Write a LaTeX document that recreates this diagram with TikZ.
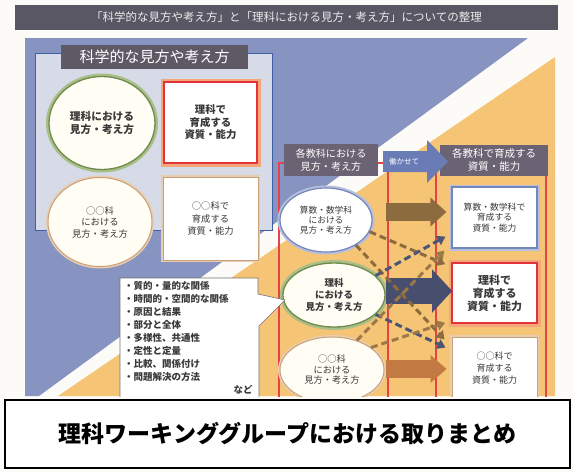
\documentclass[tikz,border=0pt]{standalone}
\usepackage{fontspec}
\setmainfont{Noto Sans CJK JP}
\usetikzlibrary{arrows.meta,calc,shapes.geometric}
\newcommand\jpfs[2]{\fontsize{#1}{#2}\selectfont}
\definecolor{pagebg}{HTML}{FCFBF7}
\definecolor{titlebar}{HTML}{5A5765}
\definecolor{tabgray}{HTML}{5F5966}
\definecolor{hdrgray}{HTML}{6B6373}
\definecolor{bgblue}{HTML}{8793C1}
\definecolor{bgorange}{HTML}{F5C474}
\definecolor{panelfill}{HTML}{D6DBE7}
\definecolor{panelline}{HTML}{3E5FA6}
\definecolor{cream}{HTML}{FFFDF4}
\definecolor{greenline}{HTML}{6F8C4C}
\definecolor{greenglow}{HTML}{A9BE88}
\definecolor{redline}{HTML}{E2323A}
\definecolor{redglow}{HTML}{F5A77A}
\definecolor{tanline}{HTML}{C9A07A}
\definecolor{tanglow}{HTML}{E8CDAE}
\definecolor{blueline}{HTML}{7586B8}
\definecolor{blueglow}{HTML}{B5C0DE}
\definecolor{arrowblue}{HTML}{6A7CB6}
\definecolor{brownA}{HTML}{8C6B3E}
\definecolor{brownB}{HTML}{9C7A48}
\definecolor{navyA}{HTML}{474E6E}
\definecolor{navyB}{HTML}{4D5577}
\definecolor{orangeA}{HTML}{C27A42}
\definecolor{colred}{HTML}{E5434A}
\definecolor{textgray}{HTML}{3A3838}
\tikzset{
  ellnode/.style={ellipse, inner sep=0pt, align=center, text=textgray},
  boxnode/.style={rectangle, inner sep=0pt, align=center, text=textgray},
  glowgreen/.style={preaction={draw=greenglow, line width=6pt}, draw=greenline, line width=1.3pt, fill=cream},
  glowred/.style={preaction={draw=redglow, line width=7pt}, draw=redline, line width=1.6pt, fill=white},
  glowtan/.style={preaction={draw=tanglow, line width=4pt}, draw=tanline, line width=1pt, fill=cream},
  glowblue/.style={preaction={draw=blueglow, line width=5pt}, draw=blueline, line width=1.2pt, fill=white},
  darkhdr/.style={fill=hdrgray, text=white, inner sep=0pt, align=center},
  dasharrow/.style={line width=3pt, dash pattern=on 7pt off 4pt, -{Triangle[width=10pt,length=8pt]}},
  colline/.style={colred, line width=1.2pt}
}
\begin{document}
\begin{tikzpicture}[x=1pt,y=-1pt]
\useasboundingbox (0,0) rectangle (573,472);
\fill[pagebg] (0,0) rectangle (573,472);
\node[fill=titlebar, minimum width=543pt, minimum height=25pt, inner sep=0pt, text=white!92!black, font=\jpfs{11.5}{13}] (title) at (286.5,17.5) {「科学的な見方や考え方」と「理科における見方・考え方」についての整理};

\begin{scope}
\clip (0,35) rectangle (573,396);
\fill[bgblue] (25,38) -- (528,38) -- (39,396) -- (25,396) -- cycle;
\fill[bgorange] (555,57) -- (555,396) -- (58,396) -- cycle;

% left panel
\node[draw=panelline, line width=1pt, fill=panelfill, minimum width=237pt, minimum height=177pt, anchor=north west, inner sep=0pt] (panel) at (35,53) {};
\node[fill=tabgray, text=white, minimum width=187pt, minimum height=24pt, inner sep=0pt, font=\jpfs{15}{18}] (tab) at (154.5,57) {科学的な見方や考え方};
\node[ellnode, glowgreen, minimum width=106pt, minimum height=93pt, font=\bfseries\jpfs{10.7}{12.5}] (riE1) at (102,123) {理科における\\見方・考え方};
\node[boxnode, glowred, minimum width=93pt, minimum height=81pt, font=\bfseries\jpfs{10.4}{12.5}] (riB1) at (210.5,122.5) {理科で\\育成する\\資質・能力};
\node[ellnode, glowtan, minimum width=104pt, minimum height=89pt, font=\jpfs{9.3}{11.5}] (oE1) at (100,222) {○○科\\における\\見方・考え方};
\node[boxnode, glowtan, fill=white, minimum width=95pt, minimum height=83pt, font=\jpfs{9.3}{12.5}] (oB1) at (210.5,218.5) {○○科で\\育成する\\資質・能力};

% column frames
\draw[colline] (279,400) -- (279,163) -- (388,163) -- (388,400);
\draw[colline] (436,400) -- (436,163) -- (546,163) -- (546,400);
\node[darkhdr, minimum width=94pt, minimum height=32pt, font=\jpfs{10.1}{12.5}] (hdr1) at (331,160) {各教科における\\見方・考え方};
\node[darkhdr, minimum width=108pt, minimum height=31pt, font=\jpfs{10.5}{12.5}] (hdr2) at (494,160) {各教科で育成する\\資質・能力};
\fill[arrowblue] (383,151) -- (427,151) -- (427,140) -- (448,161.5) -- (427,183) -- (427,172) -- (383,172) -- cycle;
\node[text=white, font=\jpfs{7.5}{9}] (hataraki) at (404,161.5) {働かせて};

% middle ellipses
\node[ellnode, glowblue, minimum width=92pt, minimum height=64pt, font=\jpfs{8.7}{10}] (sE) at (326,220) {算数・数学科\\における\\見方・考え方};
\node[ellnode, glowgreen, minimum width=102pt, minimum height=64pt, font=\bfseries\jpfs{9.5}{12}] (rE) at (334,295) {理科\\における\\見方・考え方};
\node[ellnode, glowtan, minimum width=104pt, minimum height=66pt, font=\jpfs{9.2}{10.5}] (oE2) at (332,370) {○○科\\における\\見方・考え方};

% right boxes
\node[boxnode, glowblue, minimum width=85pt, minimum height=61pt, font=\jpfs{8.8}{10.8}] (sB) at (494.5,217.5) {算数・数学科で\\育成する\\資質・能力};
\node[boxnode, glowred, minimum width=85pt, minimum height=60pt, font=\bfseries\jpfs{11}{13}] (rB) at (494.5,293) {理科で\\育成する\\資質・能力};
\node[boxnode, glowtan, fill=white, minimum width=85pt, minimum height=62pt, font=\jpfs{9}{12}] (oB2) at (494.5,368) {○○科で\\育成する\\資質・能力};

% solid arrows
\coordinate (colB) at (386,0);
\coordinate (aS1) at ($(sE.east -| colB)+(0,-8)$);
\coordinate (aS2) at ($(sE.east -| sB.west)+(-5,-8)$);
\coordinate (aR1) at ($(rE.east -| colB)+(0,-4)$);
\coordinate (aR2) at ($(rE.east -| rB.west)+(1,-4)$);
\coordinate (aO1) at ($(oE2.east -| colB)+(0,-1)$);
\coordinate (aO2) at ($(oE2.east -| oB2.west)+(-5,-1)$);
\draw[brownA, line width=18pt, -{Triangle[width=28pt,length=16pt]}] (aS1) -- (aS2);
\draw[navyA, line width=26pt, -{Triangle[width=42pt,length=20pt]}] (aR1) -- (aR2);
\draw[orangeA, line width=18pt, -{Triangle[width=27pt,length=16pt]}] (aO1) -- (aO2);

% dashed arrows
\draw[dasharrow, brownA] (sE.-15) -- ($(rB.north west)+(-6,2)$);
\draw[dasharrow, brownA] (sE.-40) -- ($(oB2.north west)+(-7,3)$);
\draw[dasharrow, navyB] (rE.25) -- ($(sB.south west)+(-6,-12)$);
\draw[dasharrow, navyB] (rE.-25) -- ($(oB2.north west)+(-6,11)$);
\draw[dasharrow, brownB] (oE2.30) -- ($(rB.south west)+(-6,-1)$);
\draw[dasharrow, brownB] (oE2.50) -- ($(sB.south west)+(-7,2)$);

% callout list
\filldraw[fill=white, draw=black!55, line width=0.6pt] (120,278) -- (258,278) -- (258,294) -- (285,300) -- (259,326) -- (259,400) -- (120,400) -- cycle;
\node[anchor=north west, inner sep=0pt, align=left, text=textgray, font=\bfseries\jpfs{9.5}{13}] (list) at (124,281.5) {・質的・量的な関係\\・時間的・空間的な関係\\・原因と結果\\・部分と全体\\・多様性、共通性\\・定性と定量\\・比較、関係付け\\・問題解決の方法};
\node[text=textgray, inner sep=0pt, font=\bfseries\jpfs{9.5}{12}] (nado) at (243,390) {など};
\end{scope}

\node[draw=black, line width=1.5pt, fill=white, minimum width=565pt, minimum height=68pt, inner sep=0pt, font=\bfseries\jpfs{23}{26}] (summary) at (287.5,434) {理科ワーキンググループにおける取りまとめ};
\end{tikzpicture}
\end{document}
